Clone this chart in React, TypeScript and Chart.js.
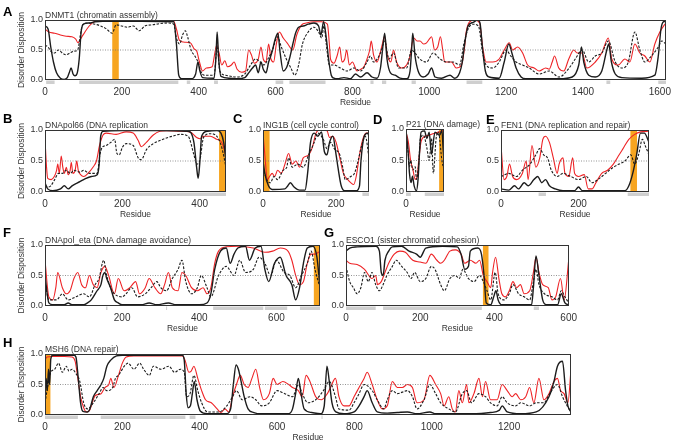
import React, { useEffect, useRef } from "react";
import { Chart, registerables } from "chart.js";

Chart.register(...registerables);

const FONT = '"Liberation Sans", Arial, sans-serif';
Chart.defaults.font.family = FONT;

type Pt = [number, number];

// ---------- A: DNMT1 ----------
const dnmt1Ticks = [0, 200, 400, 600, 800, 1000, 1200, 1400, 1600];
const dnmt1Solid: Pt[] = [[0,0.9],[8,0.85],[15,0.55],[22,0.3],[30,0.12],[40,0.03],[50,0.01],[58,0.04],[63,0.12],[68,0.2],[73,0.1],[78,0.07],[84,0.12],[89,0.35],[94,0.8],[100,0.93],[115,0.95],[130,0.97],[150,0.98],[250,0.98],[335,0.97],[342,0.6],[348,0.08],[355,0.02],[380,0.02],[392,0.1],[398,0.3],[403,0.15],[410,0.04],[440,0.03],[445,0.4],[448,0.8],[452,0.35],[458,0.06],[480,0.03],[500,0.02],[520,0.04],[528,0.1],[540,0.2],[548,0.25],[555,0.12],[562,0.3],[568,0.18],[575,0.12],[582,0.3],[590,0.45],[600,0.7],[606,0.78],[612,0.45],[620,0.15],[628,0.2],[636,0.35],[645,0.6],[652,0.78],[660,0.88],[672,0.9],[685,0.93],[700,0.95],[712,0.9],[718,0.75],[725,0.97],[732,0.7],[738,0.35],[745,0.08],[752,0.03],[761,0.02],[778,0.04],[795,0.02],[808,0.1],[821,0.05],[838,0.12],[851,0.05],[864,0.03],[873,0.2],[880,0.6],[884,0.78],[890,0.35],[899,0.12],[911,0.08],[924,0.03],[941,0.02],[950,0.15],[954,0.5],[957,0.78],[963,0.4],[971,0.15],[984,0.05],[997,0.1],[1006,0.2],[1015,0.05],[1032,0.03],[1054,0.08],[1066,0.03],[1079,0.12],[1086,0.3],[1092,0.6],[1101,0.9],[1114,0.96],[1126,1.0],[1132,0.95],[1139,0.5],[1146,0.15],[1156,0.05],[1182,0.03],[1195,0.3],[1207,0.6],[1215,0.45],[1226,0.2],[1239,0.05],[1251,0.02],[1338,0.02],[1372,0.05],[1389,0.25],[1396,0.55],[1402,0.3],[1415,0.08],[1432,0.05],[1449,0.15],[1462,0.5],[1467,0.6],[1474,0.3],[1484,0.1],[1501,0.04],[1553,0.03],[1587,0.08],[1596,0.4],[1603,0.85],[1609,0.97],[1616,0.98]];
const dnmt1Dashed: Pt[] = [[0,0.58],[8,0.55],[15,0.48],[25,0.45],[35,0.5],[45,0.45],[55,0.42],[65,0.45],[75,0.48],[85,0.5],[92,0.75],[98,0.92],[110,0.95],[130,0.93],[145,0.9],[160,0.85],[175,0.78],[185,0.92],[200,0.9],[215,0.88],[230,0.9],[245,0.82],[260,0.9],[280,0.92],[300,0.94],[320,0.95],[335,0.93],[342,0.7],[350,0.6],[358,0.75],[365,0.82],[372,0.7],[380,0.5],[390,0.4],[398,0.3],[405,0.15],[415,0.08],[440,0.08],[448,0.55],[455,0.15],[470,0.08],[500,0.05],[520,0.1],[535,0.25],[548,0.35],[560,0.3],[570,0.25],[580,0.35],[592,0.5],[605,0.72],[615,0.55],[628,0.35],[640,0.2],[650,0.08],[660,0.25],[670,0.6],[685,0.8],[700,0.88],[712,0.8],[720,0.7],[726,0.9],[732,0.6],[740,0.25],[752,0.25],[769,0.2],[786,0.15],[804,0.2],[821,0.15],[838,0.3],[847,0.4],[855,0.3],[873,0.45],[884,0.65],[895,0.35],[907,0.45],[920,0.2],[941,0.2],[954,0.5],[963,0.45],[975,0.35],[993,0.3],[1010,0.45],[1028,0.35],[1045,0.3],[1062,0.3],[1079,0.25],[1090,0.6],[1101,0.85],[1114,0.93],[1128,0.9],[1139,0.45],[1148,0.25],[1165,0.2],[1182,0.3],[1200,0.5],[1212,0.4],[1226,0.3],[1243,0.25],[1260,0.2],[1286,0.1],[1312,0.15],[1338,0.05],[1364,0.2],[1380,0.35],[1398,0.5],[1415,0.3],[1432,0.4],[1449,0.45],[1466,0.65],[1484,0.3],[1501,0.2],[1518,0.3],[1535,0.8],[1548,0.5],[1561,0.3],[1578,0.4],[1596,0.55],[1605,0.65],[1616,0.6]];
const dnmt1Red: Pt[] = [[0,0.85],[10,0.8],[25,0.78],[40,0.75],[55,0.73],[70,0.72],[80,0.68],[86,0.62],[92,0.68],[100,0.76],[115,0.9],[130,0.98],[150,1.0],[335,0.98],[342,0.85],[350,0.66],[365,0.63],[378,0.62],[388,0.52],[395,0.48],[402,0.3],[410,0.15],[420,0.2],[435,0.22],[442,0.45],[447,0.58],[453,0.45],[460,0.25],[468,0.32],[475,0.22],[485,0.25],[492,0.3],[500,0.18],[512,0.13],[522,0.15],[530,0.5],[537,0.42],[545,0.28],[555,0.35],[562,0.55],[568,0.35],[575,0.3],[582,0.6],[588,0.35],[595,0.3],[602,0.6],[610,0.8],[620,0.7],[630,0.62],[645,0.5],[655,0.75],[668,0.92],[680,0.95],[700,0.97],[720,0.97],[735,0.93],[740,0.6],[743,0.35],[752,0.28],[760,0.4],[767,0.55],[773,0.3],[780,0.35],[785,0.5],[792,0.25],[800,0.3],[812,0.15],[822,0.18],[830,0.22],[838,0.35],[845,0.5],[849,0.65],[855,0.42],[864,0.3],[872,0.45],[878,0.6],[883,0.72],[890,0.45],[894,0.35],[900,0.3],[907,0.5],[915,0.3],[928,0.2],[941,0.25],[950,0.4],[955,0.6],[960,0.7],[968,0.65],[976,0.65],[985,0.6],[993,0.62],[1000,0.68],[1006,0.72],[1014,0.5],[1022,0.55],[1029,0.72],[1035,0.5],[1040,0.3],[1058,0.3],[1070,0.2],[1084,0.25],[1092,0.55],[1096,0.8],[1105,0.97],[1118,1.0],[1131,0.95],[1139,0.55],[1148,0.3],[1165,0.3],[1182,0.35],[1195,0.5],[1208,0.62],[1217,0.5],[1230,0.55],[1243,0.45],[1256,0.25],[1273,0.2],[1286,0.15],[1303,0.2],[1312,0.18],[1320,0.3],[1326,0.4],[1337,0.2],[1350,0.15],[1363,0.35],[1376,0.5],[1385,0.45],[1398,0.45],[1410,0.2],[1432,0.3],[1449,0.45],[1466,0.7],[1475,0.35],[1492,0.25],[1509,0.35],[1522,0.3],[1535,0.6],[1548,0.45],[1561,0.4],[1574,0.3],[1587,0.6],[1600,0.8],[1612,0.92],[1616,0.95]];
const dnmt1Domains: Pt[] = [[3,25],[89,347],[369,378],[440,450],[600,620],[636,730],[847,855],[877,888],[954,965],[1097,1138],[1461,1471],[1596,1616]];
const dnmt1Site: Pt = [175, 192];

// ---------- B: DNApol66 ----------
const pol66Ticks = [0, 200, 400];
const pol66Solid: Pt[] = [[0,0.15],[7,0.05],[20,0.02],[40,0.05],[50,0.1],[60,0.05],[70,0.1],[85,0.15],[100,0.2],[120,0.25],[135,0.28],[140,0.45],[144,0.9],[150,0.98],[200,0.99],[300,0.99],[370,0.98],[385,0.8],[392,0.4],[396,0.22],[400,0.45],[405,0.9],[420,0.98],[445,0.99],[455,0.95],[462,0.8],[468,0.5]];
const pol66Dashed: Pt[] = [[0,0.1],[7,0.08],[15,0.1],[25,0.2],[35,0.3],[45,0.3],[55,0.35],[65,0.3],[75,0.35],[90,0.32],[100,0.35],[115,0.3],[135,0.3],[142,0.6],[148,0.72],[158,0.75],[170,0.8],[180,0.85],[186,0.62],[192,0.6],[200,0.72],[210,0.78],[228,0.75],[241,0.55],[249,0.52],[262,0.68],[280,0.78],[297,0.83],[314,0.87],[330,0.9],[349,0.93],[370,0.9],[385,0.6],[392,0.45],[400,0.5],[410,0.88],[427,0.94],[444,0.9],[457,0.72],[468,0.4]];
const pol66Red: Pt[] = [[0,0.85],[4,0.4],[7,0.22],[16,0.2],[24,0.25],[30,0.35],[33,0.45],[37,0.3],[42,0.58],[46,0.4],[50,0.3],[55,0.4],[60,0.28],[65,0.35],[68,0.48],[72,0.3],[78,0.35],[82,0.5],[86,0.35],[92,0.28],[100,0.25],[111,0.3],[124,0.4],[133,0.5],[141,0.75],[150,0.92],[158,0.95],[184,0.93],[210,0.97],[228,0.95],[241,0.83],[249,0.73],[262,0.8],[280,0.92],[297,0.98],[314,0.99],[349,0.98],[375,0.97],[392,0.88],[401,0.86],[410,0.9],[427,0.9],[444,0.85],[457,0.8],[468,0.6]];
const pol66Domains: Pt[] = [[141,468]];
const pol66Site: Pt = [450, 468];

// ---------- C: ING1B ----------
const ingTicks = [0, 200];
const ingSolid: Pt[] = [[0,0.5],[5,0.3],[15,0.1],[25,0.04],[60,0.05],[68,0.1],[75,0.15],[85,0.08],[100,0.03],[115,0.03],[122,0.3],[130,0.8],[140,0.95],[150,0.9],[160,0.97],[168,0.65],[175,0.6],[182,0.8],[191,0.9],[200,0.6],[205,0.4],[214,0.1],[223,0.02],[255,0.02],[264,0.1],[268,0.5],[277,0.9],[286,0.95],[290,0.9]];
const ingDashed: Pt[] = [[0,0.4],[10,0.2],[20,0.15],[30,0.25],[40,0.2],[55,0.35],[65,0.4],[70,0.55],[80,0.4],[95,0.45],[110,0.4],[125,0.6],[140,0.8],[150,0.95],[165,0.85],[175,0.7],[185,0.8],[195,0.7],[210,0.6],[218,0.4],[225,0.2],[240,0.25],[250,0.3],[260,0.5],[270,0.75],[280,0.9],[290,0.55]];
const ingRed: Pt[] = [[0,0.95],[5,0.6],[12,0.2],[18,0.25],[25,0.3],[32,0.25],[40,0.35],[50,0.3],[60,0.45],[70,0.62],[80,0.45],[90,0.5],[100,0.4],[110,0.55],[125,0.6],[135,0.72],[145,0.95],[155,1.0],[175,0.99],[182,0.88],[191,0.9],[200,0.8],[210,0.55],[220,0.3],[232,0.2],[240,0.15],[248,0.12],[255,0.25],[264,0.6],[273,0.85],[282,0.95],[290,0.95]];
const ingDomains: Pt[] = [[118,210],[272,290]];
const ingSite: Pt = [0, 18];

// ---------- D: P21 ----------
const p21Ticks = [0];
const p21Solid: Pt[] = [[0,0.98],[8,0.7],[15,0.3],[22,0.15],[28,0.25],[35,0.1],[45,0.02],[52,0.2],[58,0.6],[65,0.95],[80,0.97],[90,0.85],[100,0.95],[110,0.6],[125,0.95],[145,0.9],[155,0.98],[160,0.7],[164,0.5]];
const p21Dashed: Pt[] = [[0,0.85],[10,0.6],[15,0.4],[20,0.5],[30,0.35],[40,0.4],[45,0.2],[55,0.45],[62,0.85],[75,0.9],[90,0.7],[100,0.5],[110,0.85],[118,0.3],[130,0.85],[140,0.95],[155,0.5],[164,0.35]];
const p21Red: Pt[] = [[0,0.95],[10,0.8],[20,0.5],[30,0.35],[40,0.2],[48,0.25],[55,0.5],[65,0.8],[80,0.88],[100,0.9],[120,0.93],[140,0.95],[164,0.98]];
const p21Domains: Pt[] = [[0,21],[81,164]];
const p21Site: Pt = [143, 164];

// ---------- E: FEN1 ----------
const fenTicks = [0, 200];
const fenSolid: Pt[] = [[0,0.05],[20,0.03],[35,0.1],[45,0.05],[60,0.15],[70,0.1],[85,0.2],[95,0.25],[105,0.15],[115,0.2],[125,0.1],[140,0.05],[160,0.02],[190,0.02],[200,0.08],[210,0.02],[320,0.02],[330,0.1],[340,0.3],[350,0.6],[360,0.95],[370,0.95],[382,0.8]];
const fenDashed: Pt[] = [[0,0.25],[20,0.3],[40,0.25],[55,0.35],[75,0.45],[90,0.6],[100,0.7],[110,0.6],[120,0.55],[130,0.35],[145,0.25],[160,0.3],[180,0.25],[200,0.2],[220,0.25],[235,0.15],[250,0.2],[270,0.3],[290,0.4],[305,0.45],[320,0.5],[335,0.6],[345,0.45],[355,0.6],[365,0.85],[372,0.75],[382,0.6]];
const fenRed: Pt[] = [[0,0.75],[8,0.2],[15,0.25],[22,0.45],[30,0.25],[40,0.2],[55,0.3],[65,0.5],[70,0.2],[80,0.75],[90,0.4],[100,0.55],[108,0.85],[115,0.9],[125,0.8],[135,0.55],[145,0.3],[150,0.45],[160,0.55],[165,0.3],[175,0.25],[185,0.55],[190,0.3],[200,0.25],[215,0.28],[225,0.05],[235,0.05],[245,0.15],[260,0.3],[275,0.35],[290,0.45],[305,0.6],[315,0.7],[330,0.85],[345,0.93],[360,0.97],[382,0.98]];
const fenDomains: Pt[] = [[97,116],[327,382]];
const fenSite: Pt = [334, 351];

// ---------- F: DNApol_eta ----------
const etaTicks = [0, 200, 400, 600];
const etaSolid: Pt[] = [[0,0.5],[10,0.05],[20,0.02],[50,0.02],[60,0.05],[70,0.02],[100,0.02],[110,0.05],[120,0.1],[135,0.25],[145,0.35],[150,0.5],[155,0.55],[160,0.45],[170,0.3],[180,0.1],[190,0.05],[200,0.02],[250,0.02],[270,0.05],[290,0.02],[320,0.05],[340,0.02],[400,0.02],[420,0.05],[430,0.2],[440,0.6],[455,0.9],[470,0.95],[480,0.7],[490,0.85],[500,0.95],[520,0.98],[530,0.75],[545,0.95],[560,0.98],[570,0.6],[580,0.4],[595,0.7],[610,0.8],[625,0.5],[640,0.35],[650,0.1],[660,0.3],[670,0.7],[680,0.95],[695,0.98],[705,0.8],[713,0.3]];
const etaDashed: Pt[] = [[0,0.4],[10,0.1],[30,0.1],[45,0.2],[60,0.1],[80,0.15],[100,0.2],[115,0.15],[130,0.35],[140,0.45],[152,0.75],[160,0.5],[170,0.3],[180,0.2],[200,0.15],[210,0.2],[225,0.3],[240,0.15],[260,0.2],[275,0.3],[290,0.4],[300,0.3],[315,0.25],[330,0.45],[345,0.6],[355,0.75],[365,0.4],[380,0.2],[395,0.3],[405,0.5],[420,0.3],[430,0.15],[450,0.5],[470,0.65],[490,0.5],[505,0.75],[520,0.55],[540,0.6],[555,0.8],[570,0.7],[585,0.5],[600,0.75],[620,0.55],[635,0.5],[650,0.3],[665,0.5],[680,0.7],[690,0.9],[700,0.6],[713,0.3]];
const etaRed: Pt[] = [[0,0.75],[10,0.15],[20,0.1],[28,0.3],[33,0.55],[45,0.3],[55,0.2],[65,0.25],[75,0.45],[85,0.55],[95,0.35],[105,0.3],[115,0.5],[125,0.35],[135,0.3],[145,0.55],[155,0.65],[165,0.5],[180,0.2],[190,0.45],[205,0.25],[220,0.3],[235,0.4],[245,0.2],[260,0.3],[270,0.45],[285,0.3],[300,0.2],[310,0.35],[320,0.55],[330,0.3],[345,0.25],[355,0.55],[365,0.5],[380,0.3],[395,0.25],[410,0.3],[420,0.2],[430,0.3],[440,0.7],[450,0.9],[470,0.97],[500,0.98],[540,0.95],[570,0.88],[590,0.9],[610,0.95],[630,0.9],[640,0.75],[650,0.5],[660,0.35],[670,0.4],[680,0.7],[690,0.85],[700,0.85],[713,0.9]];
const etaDomains: Pt[] = [[158,162],[314,316],[436,566],[570,628],[661,713]];
const etaSite: Pt = [697, 713];

// ---------- G: ESCO1 ----------
const escoTicks = [0, 200, 400, 600];
const escoSolid: Pt[] = [[0,0.9],[10,0.95],[30,0.97],[80,0.98],[90,0.9],[95,0.55],[100,0.5],[105,0.75],[115,0.9],[125,0.97],[150,0.98],[170,0.9],[190,0.85],[200,0.8],[215,0.95],[260,0.98],[300,0.97],[310,0.85],[320,0.6],[330,0.65],[335,0.9],[355,0.95],[365,0.85],[372,0.5],[378,0.05],[390,0.02],[398,0.15],[404,0.25],[410,0.1],[420,0.02],[500,0.02],[505,0.3],[512,0.82],[520,0.5],[530,0.1],[540,0.02],[570,0.02],[580,0.2],[590,0.05],[600,0.02]];
const escoDashed: Pt[] = [[0,0.65],[10,0.4],[20,0.3],[30,0.2],[40,0.3],[50,0.55],[60,0.4],[70,0.55],[80,0.35],[90,0.25],[100,0.35],[110,0.5],[125,0.65],[135,0.75],[150,0.65],[165,0.55],[175,0.45],[185,0.55],[200,0.4],[215,0.45],[230,0.65],[240,0.6],[255,0.35],[265,0.25],[280,0.45],[295,0.5],[305,0.45],[315,0.6],[330,0.45],[345,0.4],[360,0.5],[370,0.4],[380,0.25],[390,0.1],[402,0.55],[410,0.2],[425,0.1],[440,0.2],[450,0.35],[465,0.2],[480,0.15],[495,0.1],[505,0.4],[512,0.6],[520,0.35],[535,0.2],[555,0.15],[570,0.1],[580,0.25],[590,0.15],[600,0.05]];
const escoRed: Pt[] = [[0,0.75],[10,0.7],[30,0.68],[50,0.6],[70,0.45],[80,0.5],[85,0.35],[95,0.4],[105,0.55],[115,0.7],[130,0.85],[145,0.9],[160,0.88],[180,0.75],[200,0.72],[215,0.7],[230,0.85],[245,0.75],[255,0.7],[265,0.75],[280,0.9],[295,0.92],[310,0.85],[320,0.7],[335,0.75],[350,0.7],[360,0.75],[370,0.5],[380,0.4],[390,0.3],[395,0.55],[403,0.8],[412,0.45],[420,0.2],[430,0.15],[440,0.25],[450,0.4],[460,0.3],[470,0.35],[480,0.2],[495,0.25],[505,0.55],[512,0.8],[520,0.55],[530,0.35],[545,0.3],[555,0.1],[565,0.15],[578,0.45],[588,0.1],[600,0.75]];
const escoDomains: Pt[] = [[0,80],[100,366],[506,520]];
const escoSite: Pt = [369, 384];

// ---------- H: MSH6 ----------
const mshTicks = [0, 200, 400, 600, 800, 1000, 1200];
const mshSolid: Pt[] = [[0,0.2],[3,0.6],[6,0.4],[9,0.75],[12,0.5],[15,0.92],[20,0.98],[75,0.98],[80,0.95],[86,0.6],[92,0.2],[98,0.06],[110,0.05],[116,0.1],[125,0.3],[135,0.4],[145,0.5],[152,0.6],[160,0.8],[170,0.9],[185,0.97],[200,0.98],[355,0.98],[360,0.9],[365,0.35],[370,0.12],[376,0.15],[381,0.35],[386,0.55],[393,0.25],[402,0.06],[420,0.02],[470,0.02],[480,0.1],[487,0.5],[494,0.82],[500,0.75],[507,0.55],[515,0.3],[525,0.1],[540,0.04],[560,0.02],[630,0.02],[640,0.1],[648,0.35],[655,0.6],[662,0.35],[670,0.1],[690,0.04],[712,0.02],[722,0.15],[729,0.8],[735,0.55],[742,0.2],[752,0.05],[773,0.02],[799,0.05],[812,0.15],[825,0.3],[833,0.4],[846,0.2],[859,0.05],[885,0.03],[911,0.04],[937,0.05],[962,0.02],[995,0.05],[1010,0.02],[1100,0.02],[1152,0.04],[1175,0.08],[1182,0.15],[1195,0.05],[1230,0.02],[1270,0.05],[1303,0.3],[1316,0.55],[1325,0.8],[1338,0.88],[1346,0.4],[1352,0.15],[1360,0.05]];
const mshDashed: Pt[] = [[0,0.2],[8,0.5],[15,0.7],[25,0.75],[35,0.85],[45,0.7],[55,0.8],[62,0.72],[70,0.75],[80,0.68],[90,0.55],[100,0.2],[110,0.1],[125,0.2],[140,0.35],[150,0.45],[160,0.4],[175,0.45],[182,0.6],[190,0.65],[205,0.8],[215,0.85],[230,0.75],[245,0.85],[255,0.75],[270,0.65],[280,0.8],[300,0.75],[320,0.8],[335,0.7],[350,0.75],[360,0.7],[366,0.3],[375,0.35],[385,0.65],[395,0.4],[405,0.2],[420,0.05],[450,0.05],[470,0.15],[485,0.3],[495,0.4],[510,0.25],[530,0.3],[545,0.25],[560,0.15],[580,0.2],[600,0.4],[620,0.35],[640,0.3],[655,0.5],[665,0.35],[680,0.2],[700,0.25],[720,0.4],[735,0.55],[751,0.3],[760,0.1],[786,0.08],[799,0.2],[812,0.35],[825,0.5],[846,0.4],[859,0.25],[876,0.1],[885,0.25],[898,0.4],[911,0.35],[937,0.4],[950,0.3],[962,0.1],[980,0.25],[995,0.5],[1010,0.35],[1023,0.2],[1044,0.1],[1061,0.05],[1079,0.35],[1090,0.4],[1103,0.2],[1122,0.35],[1139,0.3],[1152,0.2],[1169,0.15],[1182,0.3],[1195,0.2],[1217,0.15],[1230,0.2],[1253,0.15],[1270,0.2],[1290,0.2],[1305,0.35],[1325,0.5],[1338,0.3],[1350,0.15],[1360,0.05]];
const mshRed: Pt[] = [[0,0.9],[5,0.95],[20,0.96],[50,0.96],[70,0.95],[78,0.88],[85,0.6],[92,0.3],[100,0.12],[107,0.05],[115,0.07],[122,0.2],[130,0.32],[145,0.35],[155,0.45],[165,0.5],[170,0.6],[178,0.45],[190,0.65],[200,0.85],[210,0.95],[230,0.97],[355,0.97],[362,0.9],[372,0.7],[378,0.72],[385,0.8],[395,0.6],[405,0.4],[415,0.25],[430,0.2],[445,0.1],[455,0.04],[465,0.1],[475,0.05],[485,0.3],[495,0.5],[505,0.65],[515,0.5],[525,0.45],[535,0.6],[545,0.75],[555,0.45],[565,0.25],[580,0.35],[590,0.6],[600,0.5],[615,0.55],[630,0.5],[640,0.45],[655,0.4],[665,0.3],[675,0.65],[685,0.55],[700,0.3],[715,0.25],[730,0.35],[738,0.45],[751,0.6],[760,0.3],[773,0.15],[786,0.15],[799,0.3],[812,0.45],[825,0.6],[833,0.7],[846,0.5],[859,0.25],[872,0.1],[885,0.15],[898,0.55],[911,0.45],[924,0.45],[937,0.5],[950,0.45],[962,0.2],[980,0.25],[995,0.65],[1010,0.5],[1023,0.35],[1032,0.15],[1044,0.3],[1053,0.1],[1061,0.05],[1070,0.4],[1079,0.2],[1090,0.5],[1096,0.2],[1109,0.35],[1122,0.6],[1131,0.3],[1139,0.55],[1152,0.25],[1169,0.25],[1182,0.5],[1195,0.4],[1208,0.3],[1217,0.35],[1230,0.25],[1243,0.3],[1253,0.45],[1264,0.2],[1277,0.6],[1290,0.25],[1303,0.35],[1316,0.55],[1325,0.6],[1333,0.4],[1342,0.35],[1352,0.2],[1360,0.75]];
const mshDomains: Pt[] = [[0,85],[144,363],[374,389],[486,497],[715,717]];
const mshSite: Pt = [0, 14];

const threshold = 0.5;
const yTicks = [0, 0.5, 1.0];

interface PanelSpec {
  letter: string;
  letterX: number;
  letterBase: number;
  title: string;
  L: number; T: number; R: number; B: number;
  padR: number;
  xMax: number;
  xTicks: number[];
  solid: Pt[]; dashed: Pt[]; red: Pt[];
  domains: Pt[]; site: Pt;
  yTitle: boolean;
}

const panels: PanelSpec[] = [
  { letter: "A", letterX: 3, letterBase: 16, title: "DNMT1 (chromatin assembly)", L: 45, T: 20, R: 672, B: 80, padR: 5, xMax: 1616, xTicks: dnmt1Ticks, solid: dnmt1Solid, dashed: dnmt1Dashed, red: dnmt1Red, domains: dnmt1Domains, site: dnmt1Site, yTitle: true },
  { letter: "B", letterX: 3, letterBase: 123, title: "DNApol66 (DNA replication", L: 45, T: 130, R: 226, B: 192, padR: 6, xMax: 468, xTicks: pol66Ticks, solid: pol66Solid, dashed: pol66Dashed, red: pol66Red, domains: pol66Domains, site: pol66Site, yTitle: true },
  { letter: "C", letterX: 233, letterBase: 123, title: "ING1B (cell cycle control)", L: 263, T: 130, R: 369, B: 192, padR: 6, xMax: 290, xTicks: ingTicks, solid: ingSolid, dashed: ingDashed, red: ingRed, domains: ingDomains, site: ingSite, yTitle: false },
  { letter: "D", letterX: 373, letterBase: 124, title: "P21 (DNA damage)", L: 406, T: 129, R: 444, B: 192, padR: 40, xMax: 164, xTicks: p21Ticks, solid: p21Solid, dashed: p21Dashed, red: p21Red, domains: p21Domains, site: p21Site, yTitle: false },
  { letter: "E", letterX: 486, letterBase: 124, title: "FEN1 (DNA replication and repair)", L: 501, T: 130, R: 649, B: 192, padR: 6, xMax: 382, xTicks: fenTicks, solid: fenSolid, dashed: fenDashed, red: fenRed, domains: fenDomains, site: fenSite, yTitle: false },
  { letter: "F", letterX: 3, letterBase: 237, title: "DNApol_eta (DNA damage avoidance)", L: 45, T: 245, R: 320, B: 306, padR: 6, xMax: 713, xTicks: etaTicks, solid: etaSolid, dashed: etaDashed, red: etaRed, domains: etaDomains, site: etaSite, yTitle: true },
  { letter: "G", letterX: 324, letterBase: 237, title: "ESCO1 (sister chromatid cohesion)", L: 346, T: 245, R: 577, B: 306, padR: 6, xMax: 600, xTicks: escoTicks, solid: escoSolid, dashed: escoDashed, red: escoRed, domains: escoDomains, site: escoSite, yTitle: false },
  { letter: "H", letterX: 3, letterBase: 347, title: "MSH6 (DNA repair)", L: 45, T: 354, R: 571, B: 415, padR: 6, xMax: 1360, xTicks: mshTicks, solid: mshSolid, dashed: mshDashed, red: mshRed, domains: mshDomains, site: mshSite, yTitle: true },
];

const PAD_L = 45;
const PAD_T = 20;
const PAD_B = 32;
const TEXT = "#333";
const ORANGE = "#f7a520";
const GRAY = "#cfcfcf";
const RED = "#ee2326";
const BLACK = "#1c1c1c";

const toXY = (pts: Pt[]) => pts.map(([x, y]) => ({ x, y }));

function Panel({ spec }: { spec: PanelSpec }) {
  const ref = useRef<HTMLCanvasElement | null>(null);
  const W = spec.R - spec.L + PAD_L + spec.padR;
  const H = spec.B - spec.T + PAD_T + PAD_B;

  useEffect(() => {
    if (!ref.current) return;
    const deco = {
      id: "deco",
      beforeDatasetsDraw(chart: any) {
        const { ctx, chartArea, scales } = chart;
        const x = scales.x;
        const x1 = x.getPixelForValue(spec.site[0]);
        const x2 = x.getPixelForValue(spec.site[1]);
        ctx.save();
        ctx.fillStyle = ORANGE;
        ctx.fillRect(x1, chartArea.top, x2 - x1, chartArea.bottom - chartArea.top);
        ctx.restore();
      },
      afterDatasetsDraw(chart: any) {
        const { ctx, chartArea, scales } = chart;
        const x = scales.x;
        ctx.save();
        ctx.fillStyle = GRAY;
        for (const [a, b] of spec.domains) {
          const x1 = x.getPixelForValue(a);
          const x2 = x.getPixelForValue(b);
          ctx.fillRect(x1, chartArea.bottom + 0.5, Math.max(1, x2 - x1), 3.5);
        }
        ctx.strokeStyle = "#333";
        ctx.lineWidth = 1;
        ctx.strokeRect(
          Math.round(chartArea.left) + 0.5,
          Math.round(chartArea.top) + 0.5,
          Math.round(chartArea.right - chartArea.left) - 1,
          Math.round(chartArea.bottom - chartArea.top) - 1
        );
        ctx.fillStyle = TEXT;
        ctx.font = `8.5px ${FONT}`;
        ctx.textAlign = "left";
        ctx.textBaseline = "alphabetic";
        ctx.fillText(spec.title, chartArea.left, chartArea.top - 2.5);
        ctx.restore();
      },
    };

    const chart = new Chart(ref.current, {
      type: "line",
      data: {
        datasets: [
          {
            data: [{ x: 0, y: threshold }, { x: spec.xMax, y: threshold }],
            borderColor: "#777",
            borderWidth: 0.8,
            borderDash: [1, 1.5],
            tension: 0,
          },
          {
            data: toXY(spec.dashed),
            borderColor: BLACK,
            borderWidth: 1.1,
            borderDash: [2.5, 1.5],
          },
          {
            data: toXY(spec.solid),
            borderColor: BLACK,
            borderWidth: 1.4,
          },
          {
            data: toXY(spec.red),
            borderColor: RED,
            borderWidth: 1.1,
          },
        ] as any,
      },
      options: {
        responsive: false,
        maintainAspectRatio: false,
        animation: false,
        events: [],
        layout: { padding: { top: PAD_T, right: spec.padR, left: 0, bottom: 0 } },
        elements: {
          point: { radius: 0 },
          line: { tension: 0.4, cubicInterpolationMode: "monotone", fill: false },
        },
        plugins: { legend: { display: false }, tooltip: { enabled: false } },
        scales: {
          x: {
            type: "linear",
            min: 0,
            max: spec.xMax,
            grid: { display: false, drawTicks: false },
            border: { display: false },
            afterBuildTicks: (s: any) => { s.ticks = spec.xTicks.map((v) => ({ value: v })); },
            ticks: {
              padding: 6,
              autoSkip: false,
              maxRotation: 0,
              color: TEXT,
              font: { size: 10, family: FONT },
              callback: (v: any) => String(v),
            },
            title: {
              display: true,
              text: "Residue",
              color: TEXT,
              font: { size: 8.5, family: FONT },
              padding: { top: 0, bottom: 4 },
            },
            afterFit: (s: any) => { s.height = PAD_B; },
          },
          y: {
            type: "linear",
            min: 0,
            max: 1,
            grid: { display: false, drawTicks: false },
            border: { display: false },
            afterBuildTicks: (s: any) => { s.ticks = yTicks.map((v) => ({ value: v })); },
            ticks: {
              padding: 2,
              color: TEXT,
              font: { size: 9, family: FONT },
              callback: (v: any) => Number(v).toFixed(1),
            },
            title: {
              display: spec.yTitle,
              text: "Disorder Disposition",
              color: TEXT,
              font: { size: 8.5, family: FONT },
              padding: { top: 17, bottom: 0 },
            },
            afterFit: (s: any) => { s.width = PAD_L; },
          },
        },
      } as any,
      plugins: [deco],
    });
    return () => chart.destroy();
  }, [spec]);

  return (
    <canvas
      ref={ref}
      width={W}
      height={H}
      style={{ position: "absolute", left: spec.L - PAD_L, top: spec.T - PAD_T, width: W, height: H }}
    />
  );
}

export default function App() {
  return (
    <div style={{ position: "absolute", left: 0, top: 0, width: 677, height: 444, background: "#fff", overflow: "hidden" }}>
      {panels.map((p) => (
        <Panel key={p.letter} spec={p} />
      ))}
      {panels.map((p) => (
        <div
          key={"l" + p.letter}
          style={{
            position: "absolute",
            left: p.letterX,
            top: p.letterBase - 11,
            fontFamily: FONT,
            fontWeight: "bold",
            fontSize: 13,
            lineHeight: "13px",
            color: "#000",
          }}
        >
          {p.letter}
        </div>
      ))}
    </div>
  );
}
